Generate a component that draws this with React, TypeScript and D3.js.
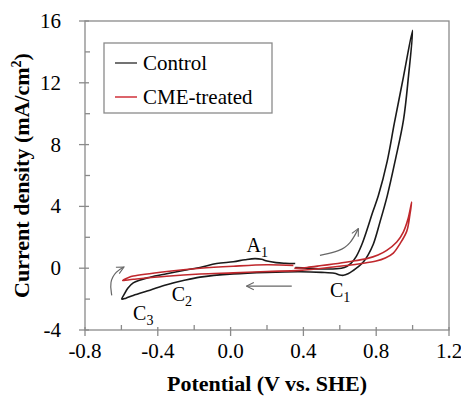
import React from 'react';
import * as d3 from 'd3';

// axis ticks
const potentialTicks = [-0.8, -0.4, 0, 0.4, 0.8, 1.2];
const potentialMinor = [-0.6, -0.2, 0.2, 0.6, 1.0];
const currentTicks = [-4, 0, 4, 8, 12, 16];
const currentMinor = [-2, 2, 6, 10, 14];

// [potential V, current density mA/cm2], in scan order starting at 0.35 V
const controlScan: [number, number][] = [
  [0.355, 0.05], [0.42, 0.0], [0.5, -0.05], [0.58, -0.04], [0.625, 0.05],
  [0.66, 0.3], [0.69, 0.75], [0.72, 1.5], [0.75, 2.5], [0.78, 3.6],
  [0.812, 4.7], [0.86, 6.9], [0.9, 9.4], [0.95, 12.4], [1.0, 15.4],
  [0.978, 12.5], [0.95, 9.6], [0.905, 7.0], [0.861, 4.7], [0.821, 3.0],
  [0.784, 1.55], [0.755, 0.85], [0.729, 0.4], [0.7, 0.08], [0.674, -0.15],
  [0.645, -0.36], [0.62, -0.46], [0.6, -0.44], [0.57, -0.33], [0.5, -0.27],
  [0.38, -0.23], [0.2, -0.27], [0.015, -0.37], [-0.168, -0.58], [-0.26, -0.8],
  [-0.351, -1.07], [-0.443, -1.42], [-0.535, -1.76], [-0.575, -1.94], [-0.598, -2.0],
  [-0.585, -1.7], [-0.565, -1.3], [-0.535, -0.95], [-0.443, -0.58], [-0.351, -0.36],
  [-0.26, -0.15], [-0.168, 0.05], [-0.077, 0.3], [0.015, 0.42], [0.08, 0.55],
  [0.134, 0.62], [0.17, 0.58], [0.2, 0.46], [0.25, 0.36], [0.3, 0.32], [0.355, 0.3],
];

const cmeScan: [number, number][] = [
  [0.35, 0.0], [0.42, 0.05], [0.5, 0.17], [0.564, 0.27], [0.65, 0.42],
  [0.748, 0.62], [0.81, 0.85], [0.858, 1.15], [0.913, 1.69], [0.949, 2.34],
  [0.975, 3.2], [0.995, 4.28],
  [0.985, 3.45], [0.968, 2.4], [0.931, 1.59], [0.894, 0.98], [0.85, 0.66],
  [0.8, 0.46], [0.711, 0.29], [0.564, 0.08], [0.38, -0.14], [0.2, -0.21],
  [0.015, -0.3], [-0.168, -0.38], [-0.351, -0.52], [-0.535, -0.72], [-0.593, -0.79],
  [-0.56, -0.6], [-0.535, -0.51], [-0.35, -0.21], [-0.168, 0.0], [0.015, 0.13],
  [0.198, 0.22], [0.345, 0.18],
];

const seriesNames = ['Control', 'CME-treated'];

// peak labels, placed in data units
const peakLabels = [
  { name: 'A', sub: '1', v: 0.088, j: 1.02 },
  { name: 'C', sub: '1', v: 0.546, j: -1.89 },
  { name: 'C', sub: '2', v: -0.324, j: -2.15 },
  { name: 'C', sub: '3', v: -0.536, j: -3.38 },
];

// scan direction arrows, data units
const scanArrows: [number, number][][] = [
  [[0.336, -1.16], [0.088, -1.16]],
  [[0.491, 0.83], [0.6, 1.1], [0.66, 1.6], [0.702, 2.56]],
  [[-0.653, -1.76], [-0.665, -0.9], [-0.63, -0.2], [-0.586, 0.07]],
];

const FONT = "'Liberation Serif'";
const width = 461;
const height = 396;
const margin = { top: 21, right: 12, bottom: 66, left: 85 };
const innerW = width - margin.left - margin.right;
const innerH = height - margin.top - margin.bottom;
const axisColour = '#8a8a8a';
const colours = ['#1a1a1a', '#c0282d'];
const legendColours = ['#444', '#d0303a'];

const x = d3.scaleLinear().domain([-0.8, 1.2]).range([0, innerW]);
const y = d3.scaleLinear().domain([-4, 16]).range([innerH, 0]);

const line = d3.line<[number, number]>()
  .x(d => x(d[0]))
  .y(d => y(d[1]))
  .curve(d3.curveCatmullRom.alpha(0.5));

const arrowLine = d3.line<[number, number]>()
  .x(d => x(d[0]))
  .y(d => y(d[1]))
  .curve(d3.curveBasis);

const App: React.FC = () => (
  <svg
    width={width}
    height={height}
    style={{ position: 'absolute', left: 0, top: 0, background: '#fff', fontFamily: FONT }}
  >
    <defs>
      <marker id="head" viewBox="0 0 10 10" refX={9} refY={5} markerWidth={9} markerHeight={9}
        markerUnits="userSpaceOnUse" orient="auto">
        <path d="M1,1 L9,5 L1,9" fill="none" stroke="#666" strokeWidth={1.2} />
      </marker>
    </defs>
    <g transform={`translate(${margin.left},${margin.top})`}>
      <rect width={innerW} height={innerH} fill="none" stroke={axisColour} strokeWidth={1.3} />

      {/* x axis */}
      {potentialTicks.map(d => (
        <g key={`xt${d}`}>
          <line x1={x(d)} x2={x(d)} y1={innerH - 3} y2={innerH + 6} stroke={axisColour} strokeWidth={1.3} />
          <text x={x(d)} y={innerH + 28} textAnchor="middle" fontSize={21} style={{ fontFamily: FONT }}>
            {d.toFixed(1)}
          </text>
        </g>
      ))}
      {potentialMinor.map(d => (
        <line key={`xm${d}`} x1={x(d)} x2={x(d)} y1={innerH - 5} y2={innerH} stroke={axisColour} strokeWidth={1.3} />
      ))}

      {/* y axis */}
      {currentTicks.map(d => (
        <g key={`yt${d}`}>
          <line x1={-6} x2={4} y1={y(d)} y2={y(d)} stroke={axisColour} strokeWidth={1.3} />
          <text x={-24} y={y(d) + 7} textAnchor="end" fontSize={21} style={{ fontFamily: FONT }}>
            {String(d)}
          </text>
        </g>
      ))}
      {currentMinor.map(d => (
        <line key={`ym${d}`} x1={0} x2={5} y1={y(d)} y2={y(d)} stroke={axisColour} strokeWidth={1.3} />
      ))}

      {/* axis titles */}
      <text x={innerW / 2} y={innerH + 61} textAnchor="middle" fontSize={22} fontWeight="bold"
        style={{ fontFamily: FONT }}>
        Potential (V vs. SHE)
      </text>
      <text transform={`translate(-56,${innerH / 2}) rotate(-90)`} textAnchor="middle" fontSize={22}
        fontWeight="bold" style={{ fontFamily: FONT }}>
        <tspan>Current density (mA/cm</tspan>
        <tspan dy={-8} fontSize={14}>2</tspan>
        <tspan dy={8}>)</tspan>
      </text>

      {/* curves */}
      {[controlScan, cmeScan].map((scan, i) => (
        <path key={seriesNames[i]} d={line(scan) ?? ''} fill="none" stroke={colours[i]}
          strokeWidth={1.6} strokeLinejoin="round" />
      ))}

      {/* arrows */}
      {scanArrows.map((a, i) => (
        <path key={`a${i}`} d={arrowLine(a) ?? ''} fill="none" stroke="#666" strokeWidth={1.2}
          markerEnd="url(#head)" />
      ))}

      {/* peak labels */}
      {peakLabels.map(p => (
        <text key={p.name + p.sub} x={x(p.v)} y={y(p.j)} fontSize={20} style={{ fontFamily: FONT }}>
          <tspan>{p.name}</tspan>
          <tspan dy={5} fontSize={14}>{p.sub}</tspan>
        </text>
      ))}

      {/* legend */}
      <g transform="translate(19,22)">
        <rect width={168} height={70} fill="#fff" stroke={axisColour} strokeWidth={1.3} />
        {seriesNames.map((name, i) => (
          <g key={name}>
            <line x1={11} x2={33} y1={20 + i * 34} y2={20 + i * 34} stroke={legendColours[i]} strokeWidth={1.5} />
            <text x={39} y={27 + i * 34} fontSize={21} style={{ fontFamily: FONT }}>{name}</text>
          </g>
        ))}
      </g>
    </g>
  </svg>
);

export default App;
